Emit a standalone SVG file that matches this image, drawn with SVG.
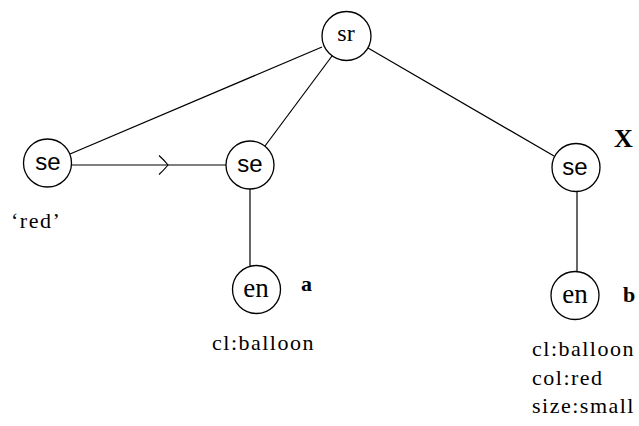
<svg xmlns="http://www.w3.org/2000/svg" width="639" height="426" viewBox="0 0 639 426">
<style>
.n{fill:#fff;stroke:#000;stroke-width:1.3}
.c{fill:none;stroke:#000;stroke-width:1.2}
.sans{font-family:"Liberation Sans",Arial,sans-serif;font-size:24px;text-anchor:middle}
.ser{font-family:"Liberation Serif","Times New Roman",serif;text-anchor:middle}
.lab{font-family:"Liberation Serif","Times New Roman",serif;font-size:22px;letter-spacing:1.5px}
.b{font-family:"Liberation Serif","Times New Roman",serif;font-weight:bold}
</style>
<defs>
<marker id="chev" markerUnits="userSpaceOnUse" markerWidth="14" markerHeight="24" refX="10" refY="12" orient="auto" overflow="visible">
<path d="M1,2.5 Q6,7 10,12 Q6,17 1,21.5" fill="none" stroke="#000" stroke-width="1.2"/>
</marker>
</defs>
<rect width="639" height="426" fill="#fff"/>
<g id="connectors">
<line class="c" x1="70" y1="154" x2="322" y2="47"/>
<line class="c" x1="265" y1="146" x2="332" y2="56"/>
<line class="c" x1="368" y1="48" x2="554" y2="156"/>
<path class="c" d="M71,165 L168,165 L226,165" marker-mid="url(#chev)"/>
<line class="c" x1="250" y1="189" x2="250" y2="266"/>
<line class="c" x1="577" y1="191" x2="577" y2="272"/>
</g>
<g id="sr">
<circle class="n" cx="346.5" cy="36" r="24.5"/>
<text class="ser" x="346" y="41" font-size="24">sr</text>
</g>
<g id="se-left">
<circle class="n" cx="47.5" cy="163" r="24"/>
<text class="sans" x="48" y="170">se</text>
</g>
<g id="se-mid">
<circle class="n" cx="250" cy="165" r="24"/>
<text class="sans" x="250" y="172">se</text>
</g>
<g id="se-right">
<circle class="n" cx="576" cy="167.5" r="24"/>
<text class="sans" x="575" y="175">se</text>
</g>
<g id="en-a">
<circle class="n" cx="256.5" cy="289.5" r="24"/>
<text class="ser" x="256" y="297" font-size="27">en</text>
</g>
<g id="en-b">
<circle class="n" cx="575" cy="295.5" r="24"/>
<text class="ser" x="575" y="303" font-size="27">en</text>
</g>
<g id="labels">
<text class="lab" x="11" y="228">‘red’</text>
<text class="b" x="301" y="291" font-size="22">a</text>
<text class="b" x="623" y="302" font-size="22">b</text>
<text class="b" x="614" y="147" font-size="26">X</text>
<text class="lab" x="212" y="350">cl:balloon</text>
<text class="lab" x="532" y="356">cl:balloon</text>
<text class="lab" x="532" y="385">col:red</text>
<text class="lab" x="532" y="413">size:small</text>
</g>
</svg>
